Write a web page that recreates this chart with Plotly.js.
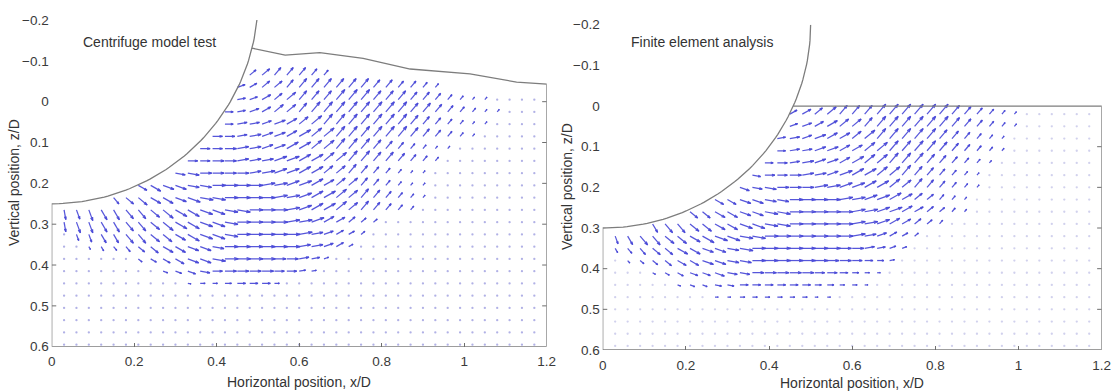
<!DOCTYPE html>
<html><head><meta charset="utf-8">
<script src="https://cdn.plot.ly/plotly-3.0.1.min.js"></script>
<style>html,body{margin:0;padding:0;background:#fff}#chart{width:1111px;height:392px}</style>
</head><body><div id="chart"></div>
<script>
// ---------- grid (x/D, z/D) ----------
const colX = [0.03,0.06,0.09,0.12,0.15,0.18,0.21,0.24,0.27,0.3,0.33,0.36,0.39,0.42,0.45,0.48,0.51,0.54,0.57,0.6,
              0.63,0.66,0.69,0.72,0.75,0.78,0.81,0.84,0.87,0.9,0.93,0.96,0.99,1.02,1.05,1.08,1.11,1.14,1.17];
const leftRowZ = [0.595,0.565,0.535,0.505,0.475,0.445,0.415,0.385,0.355,0.325,0.295,0.265,0.235,0.205,0.175,0.145,
                  0.115,0.085,0.055,0.025,-0.005,-0.035,-0.065];
const rightRowZ = [0.59,0.56,0.53,0.5,0.47,0.44,0.41,0.38,0.35,0.32,0.29,0.26,0.23,0.2,0.17,0.14,0.11,0.08,0.05,0.02];

// Direction codes: a=-90deg ... j=0deg ... s=+90deg (10deg steps, + = upward on screen); '.' = near-zero vector
// Length codes: digit x 0.004 D
// ---------- Centrifuge model test (rows bottom -> top) ----------
const leftStart = [0,0,0,0,0,0,0,0,0,0,0,0,4,6,9,10,11,12,13,13,14,14,15];
const leftDir = [
 ".......................................",
 ".......................................",
 ".......................................",
 ".......................................",
 ".......................................",
 "..........ijjjjjjj.....................",
 "........hhhijjjjjjjkk..................",
 "......fggghhijjjjjjkkl.................",
 "..ddeeffgghhijjjjjjkklmm...............",
 ".ccddeeffgghhijjjjjkklmmn..............",
 "bccddeeffgghhijjjjkklmmnnn.............",
 "bccddeeffgghhiijjjklmmnnooooo..........",
 "effgghhiijjjjkklmmnnoooooo.........",
 "gghhiijjjjkkllmmnnoooooo.........",
 "iijjjjkkllmmnnooooooo.........",
 "jjjjkkkllmmnnoooooooo........",
 "jjjkkllmmnnoooooooooo.......",
 "jjkkllmmnnoooooooooooo.....",
 "jkkllmnnoooooooooooooo....",
 "jklmnnooooooooooooooooo...",
 "klmnnoooooooooooooooo....",
 "lmnnooooooooooooo",
 "nnooooo"
];
const leftLen = [
 "", "", "", "", "",
 "000000000023345553",
 "000000003456677776643",
 "0000003456778888877653",
 "002334567777788888877653",
 "0456677777888888888876543",
 "67777777888888888888876543",
 "66777777888888888888888776543",
 "56777788888888888887765432",
 "677777888888888777654322",
 "677777788888777654322",
 "667777788888888776543",
 "667777788888887654322",
 "6667777888888888765432",
 "5666777888888887654322",
 "55667778888888877654322",
 "556677778887776654322",
 "55666777777665543",
 "5666654"
];
// ---------- Finite element analysis (rows bottom -> top) ----------
const rightStart = [0,0,0,0,0,0,0,0,0,0,3,6,8,10,11,12,13,13,14,14];
const rightDir = [
 ".......................................",
 ".......................................",
 ".......................................",
 ".......................................",
 "........jjjjjjjjjj.....................",
 ".....hhhiijjjjjjjjjjj..................",
 "...ggghhhiijjjjjjjjjjj.................",
 ".efffgghhiijjjjjjjjjjjk................",
 "deeffgghhiijjjjjjjjjkkll...............",
 "cdeeffgghhiijjjjjjjkklmmn..............",
 "deeffgghhiijjjjjkklmmnno............",
 "ffgghhiijjjjjkkllmmnnoo..........",
 "gghhiijjjjkkllmmnnooo..........",
 "hiijjjkkllmmnnoooooo.........",
 "ijjjkkllmmnnooooooo.........",
 "jjkkllmmnnooooooooo........",
 "jkkllmmnnoooooooooo.......",
 "kkllmmnnooooooooooo.......",
 "llmmnnooooooooooooo......",
 "mmnnooooooooooooooo......"
];
const rightLen = [
 "", "", "", "",
 "000000002233333322",
 "000002334455555544332",
 "0002345566677777665432",
 "02345667777888888776543",
 "345667777788888888776543",
 "5677777888888888888876543",
 "677777788888888888876543",
 "66777788888888888765432",
 "667777888888888765432",
 "66777788888887765432",
 "5667777888888765432",
 "5667777888888765432",
 "5667777888888765432",
 "5667777888888765432",
 "5667777888888765432",
 "5667777888888765432"
];

// ---------- boundaries ----------
const leftSurfX = [0.486,0.529,0.566,0.650,0.755,0.869,1.014,1.127,1.2];
const leftSurfZ = [-0.131,-0.122,-0.114,-0.120,-0.106,-0.080,-0.068,-0.048,-0.043];
const rightSurfX = [0.458,1.2];
const rightSurfZ = [0,0];
const pipeLeft = {cz:-0.25, r:0.5};
const pipeRight = {cz:-0.2, r:0.5};

const xTickVals = [0,0.2,0.4,0.6,0.8,1,1.2];
const xTickText = ['0','0.2','0.4','0.6','0.8','1','1.2'];
const yTickVals = [-0.2,-0.1,0,0.1,0.2,0.3,0.4,0.5,0.6];
const yTickText = ['\u22120.2','\u22120.1','0','0.1','0.2','0.3','0.4','0.5','0.6'];

// ---------- builders ----------
const ANG = 'abcdefghijklmnopqrs';
const UNIT = 0.004;
function quiver(rowZ, start, dirs, lens){
  const lx=[], ly=[], dx=[], dy=[];
  for (let j=0;j<rowZ.length;j++){
    const d = dirs[j]||'', l = lens[j]||'';
    for (let i=0;i<d.length;i++){
      const c = start[j]+i; if (c>=colX.length) break;
      const ch = d[i]; if (ch===' ') continue;
      const x = colX[c], z = rowZ[j];
      const idx = ANG.indexOf(ch);
      const n = parseInt(l[i]||'0',10);
      if (idx<0 || !n){ dx.push(x); dy.push(z); continue; }
      const L = n*UNIT, a = (idx-9)*10*Math.PI/180;
      const u = L*Math.cos(a), v = -L*Math.sin(a);
      const tx = x+u, tz = z+v;
      const al = 0.3, be = 0.3;
      lx.push(x, tx, null);
      ly.push(z, tz, null);
      lx.push(tx-al*(u+be*v), tx, tx-al*(u-be*v), null);
      ly.push(tz-al*(v-be*u), tz, tz-al*(v+be*u), null);
    }
  }
  return {lx,ly,dx,dy};
}
function boundary(pipe, sx, sz){
  const bx=[], bz=[];
  const p0 = Math.asin((-0.2-pipe.cz)/pipe.r);
  const N = 80;
  for (let t=0;t<=N;t++){
    const p = p0 + (Math.PI/2-p0)*t/N;
    bx.push(pipe.r*Math.cos(p)); bz.push(pipe.cz+pipe.r*Math.sin(p));
  }
  bx.push(0, 1.2); bz.push(0.6, 0.6);
  for (let i=sx.length-1;i>=0;i--){ bx.push(sx[i]); bz.push(sz[i]); }
  return {bx,bz};
}

const ARROW = 'rgba(72,72,215,0.92)';
const traces = [];
function addPanel(xa, ya, rowZ, start, dirs, lens, pipe, sx, sz, dotColor){
  const q = quiver(rowZ, start, dirs, lens);
  traces.push({type:'scatter', mode:'markers', x:q.dx, y:q.dy, xaxis:xa, yaxis:ya,
    marker:{size:2.3, color:dotColor, line:{width:0}}, hoverinfo:'skip'});
  traces.push({type:'scatter', mode:'lines', x:q.lx, y:q.ly, xaxis:xa, yaxis:ya,
    line:{color:ARROW, width:1.25}, connectgaps:false, hoverinfo:'skip'});
  const b = boundary(pipe, sx, sz);
  traces.push({type:'scatter', mode:'lines', x:b.bx, y:b.bz, xaxis:xa, yaxis:ya,
    line:{color:'rgb(125,125,125)', width:1.3}, cliponaxis:false, hoverinfo:'skip'});
}
addPanel('x','y', leftRowZ, leftStart, leftDir, leftLen, pipeLeft, leftSurfX, leftSurfZ, 'rgba(100,100,205,0.5)');
addPanel('x2','y2', rightRowZ, rightStart, rightDir, rightLen, pipeRight, rightSurfX, rightSurfZ, 'rgba(140,140,210,0.4)');

// tick marks on spines (inside)
const shapes = [];
function spineTicks(xr, yr, xpos, dir, vals){
  vals.forEach(v => shapes.push({type:'line', xref:xr, yref:yr, x0:xpos, x1:xpos+dir*0.011, y0:v, y1:v,
    line:{color:'rgb(110,110,110)', width:1}}));
}
spineTicks('x','y',0,1,[0.3,0.4,0.5]);
spineTicks('x','y',1.2,-1,[0,0.1,0.2,0.3,0.4,0.5]);
spineTicks('x2','y2',0,1,[0.4,0.5]);
spineTicks('x2','y2',1.2,-1,[0.1,0.2,0.3,0.4,0.5]);

const W=1111, H=392;
function xax(d0,d1,anchor){
  return {domain:[d0/W,d1/W], range:[0,1.2], anchor:anchor, tickvals:xTickVals, ticktext:xTickText,
    ticks:'inside', ticklen:4, tickcolor:'rgb(110,110,110)', showgrid:false, zeroline:false, showline:false,
    ticklabelstandoff:5, ticklabeloverflow:'allow', tickfont:{size:13.5, color:'#3a3a3a'}, fixedrange:true};
}
function yax(top,bot,anchor){
  return {domain:[(H-bot)/H,(H-top)/H], range:[0.6,-0.2], anchor:anchor, tickvals:yTickVals, ticktext:yTickText,
    ticks:'', showgrid:false, zeroline:false, showline:false, ticklabelstandoff:2, ticklabeloverflow:'allow',
    tickfont:{size:13.5, color:'#3a3a3a'}, fixedrange:true};
}
const layout = {
  width:W, height:H, margin:{l:0,r:0,t:0,b:0}, paper_bgcolor:'#ffffff', plot_bgcolor:'rgba(0,0,0,0)',
  showlegend:false, font:{family:'"Liberation Sans", Arial, sans-serif', color:'#3a3a3a'},
  xaxis: xax(51.7,546.7,'y'), yaxis: yax(20,346.7,'x'),
  xaxis2: xax(602.7,1101.7,'y2'), yaxis2: yax(24.7,350,'x2'),
  shapes: shapes,
  annotations: [
    {text:'Centrifuge model test', xref:'paper', yref:'paper', x:149.5/W, y:(H-42)/H, xanchor:'center', yanchor:'middle', showarrow:false, font:{size:14, color:'#333'}},
    {text:'Finite element analysis', xref:'paper', yref:'paper', x:702/W, y:(H-42)/H, xanchor:'center', yanchor:'middle', showarrow:false, font:{size:14, color:'#333'}},
    {text:'Horizontal position, x/D', xref:'paper', yref:'paper', x:299/W, y:(H-382)/H, xanchor:'center', yanchor:'middle', showarrow:false, font:{size:14, color:'#333'}},
    {text:'Horizontal position, x/D', xref:'paper', yref:'paper', x:852/W, y:(H-383)/H, xanchor:'center', yanchor:'middle', showarrow:false, font:{size:14, color:'#333'}},
    {text:'Vertical position, z/D', xref:'paper', yref:'paper', x:14/W, y:(H-183)/H, xanchor:'center', yanchor:'middle', textangle:-90, showarrow:false, font:{size:14, color:'#333'}},
    {text:'Vertical position, z/D', xref:'paper', yref:'paper', x:567/W, y:(H-187)/H, xanchor:'center', yanchor:'middle', textangle:-90, showarrow:false, font:{size:14, color:'#333'}}
  ]
};
Plotly.newPlot('chart', traces, layout, {staticPlot:true, displayModeBar:false});
</script></body></html>
